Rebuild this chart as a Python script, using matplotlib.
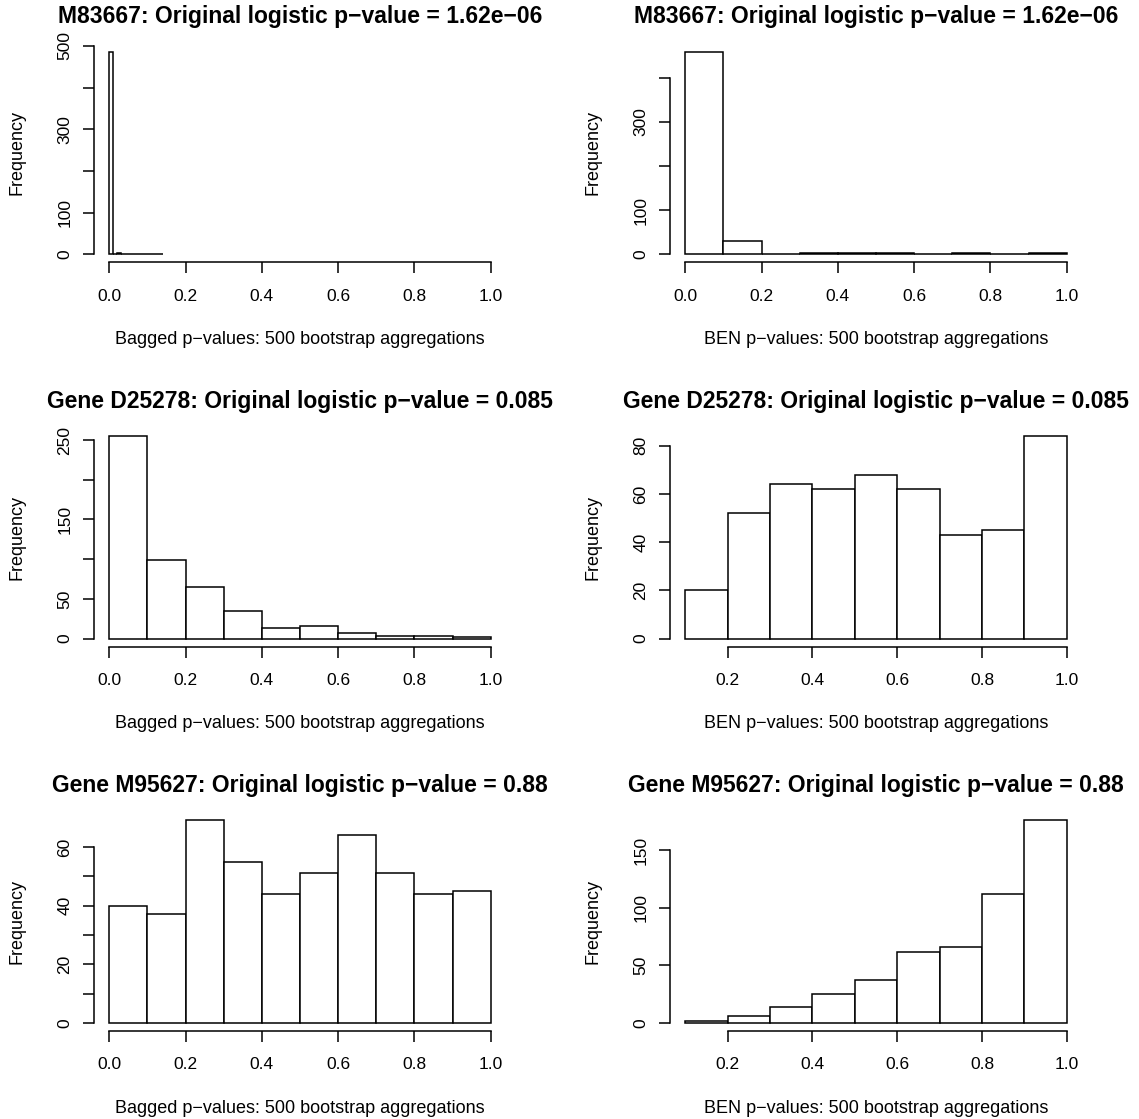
import numpy as np
import matplotlib
matplotlib.use("Agg")
import matplotlib.pyplot as plt

plt.rcParams['font.family'] = ['Liberation Sans', 'DejaVu Sans']

# histogram counts per panel, read row by row (left: bagged, right: BEN)
titles = [
    "M83667: Original logistic p\u2212value = 1.62e\u221206",
    "M83667: Original logistic p\u2212value = 1.62e\u221206",
    "Gene D25278: Original logistic p\u2212value = 0.085",
    "Gene D25278: Original logistic p\u2212value = 0.085",
    "Gene M95627: Original logistic p\u2212value = 0.88",
    "Gene M95627: Original logistic p\u2212value = 0.88",
]
xlabels = ["Bagged p\u2212values: 500 bootstrap aggregations",
           "BEN p\u2212values: 500 bootstrap aggregations"] * 3

breaks = [
    np.round(np.arange(0, 0.15, 0.01), 2),
    np.round(np.arange(0, 1.05, 0.1), 1),
    np.round(np.arange(0, 1.05, 0.1), 1),
    np.round(np.arange(0.1, 1.05, 0.1), 1),
    np.round(np.arange(0, 1.05, 0.1), 1),
    np.round(np.arange(0.1, 1.05, 0.1), 1),
]
counts = [
    [486, 1, 2, 1, 1, 1, 0, 1, 1, 1, 1, 1, 1, 1],
    [459, 29, 1, 3, 2, 2, 0, 2, 0, 2],
    [255, 99, 65, 35, 13, 16, 7, 3, 3, 2],
    [20, 52, 64, 62, 68, 62, 43, 45, 84],
    [40, 37, 69, 55, 44, 51, 64, 51, 44, 45],
    [2, 6, 14, 25, 37, 62, 66, 112, 176],
]
xlims = [(0, 1), (0, 1), (0, 1), (0.1, 1), (0, 1), (0.1, 1)]
xticks = [
    [0.0, 0.2, 0.4, 0.6, 0.8, 1.0],
    [0.0, 0.2, 0.4, 0.6, 0.8, 1.0],
    [0.0, 0.2, 0.4, 0.6, 0.8, 1.0],
    [0.2, 0.4, 0.6, 0.8, 1.0],
    [0.0, 0.2, 0.4, 0.6, 0.8, 1.0],
    [0.2, 0.4, 0.6, 0.8, 1.0],
]
yticks = [
    [0, 100, 200, 300, 400, 500],
    [0, 100, 200, 300, 400],
    [0, 50, 100, 150, 200, 250],
    [0, 20, 40, 60, 80],
    [0, 10, 20, 30, 40, 50, 60],
    [0, 50, 100, 150],
]
# labels R keeps after dropping overlapping ones
ylabels_shown = [
    ["0", "100", "", "300", "", "500"],
    ["0", "100", "", "300", ""],
    ["0", "50", "", "150", "", "250"],
    ["0", "20", "40", "60", "80"],
    ["0", "", "20", "", "40", "", "60"],
    ["0", "50", "100", "150"],
]

W, H = 1139, 1119
fig = plt.figure(figsize=(W / 100, H / 100), dpi=100)

col_dx = 576
row_dy = 384.4
plot_w = 412
plot_h = 218.7
left0 = 94
bottom0 = 262.3

for i in range(6):
    r, c = divmod(i, 2)
    x0 = left0 + c * col_dx
    yb = bottom0 + r * row_dy
    ax = fig.add_axes([x0 / W, 1 - yb / H, plot_w / W, plot_h / H])

    b = breaks[i]
    n = counts[i]
    ax.bar(b[:-1], n, width=np.diff(b), align='edge', color='white',
           edgecolor='black', linewidth=1.1)

    lo, hi = xlims[i]
    ax.set_xlim(lo - 0.04 * (hi - lo), hi + 0.04 * (hi - lo))
    m = max(n)
    ax.set_ylim(-0.04 * m, 1.04 * m)

    # axis lines run from the first tick to the last one
    for s in ['top', 'right']:
        ax.spines[s].set_visible(False)
    ax.spines['bottom'].set_bounds(xticks[i][0], xticks[i][-1])
    ax.spines['left'].set_bounds(yticks[i][0], yticks[i][-1])
    ax.spines['bottom'].set_linewidth(1.1)
    ax.spines['left'].set_linewidth(1.1)

    ax.set_xticks(xticks[i])
    ax.set_xticklabels(["%.1f" % v for v in xticks[i]])
    ax.set_yticks(yticks[i])
    ax.set_yticklabels(ylabels_shown[i], rotation=90, va='center')
    ax.tick_params(direction='out', length=8, width=1.1, labelsize=12.5)
    ax.tick_params(axis='x', pad=11)
    ax.tick_params(axis='y', pad=7.5)

    xc = x0 + plot_w / 2
    fig.text(xc / W, 1 - (yb - plot_h - 27) / H, titles[i], ha='center',
             va='center', fontsize=16.5, fontweight='bold')
    fig.text(xc / W, 1 - (yb + 77) / H, xlabels[i], ha='center',
             va='center', fontsize=13)
    fig.text((17 + c * col_dx) / W, 1 - (yb - plot_h / 2) / H, "Frequency",
             ha='center', va='center', rotation=90, fontsize=13)

fig.savefig("out.png", dpi=100)
